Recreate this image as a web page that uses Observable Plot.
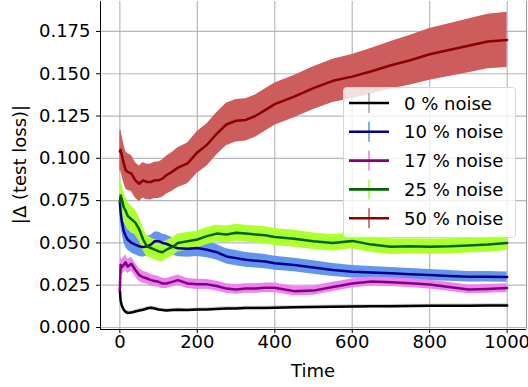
<!DOCTYPE html>
<html>
<head>
<meta charset="utf-8">
<script src="https://cdn.jsdelivr.net/npm/d3@7"></script>
<script src="https://cdn.jsdelivr.net/npm/@observablehq/plot@0.6"></script>
<style>
  html, body { margin: 0; padding: 0; background: white; }
</style>
</head>
<body>
<div id="chart"></div>
<script>
// ---- data ----
const time = [0,2,5,10,15,20,30,40,50,60,70,80,90,100,110,120,135,150,175,200,225,250,275,300,325,350,375,400,450,500,550,600,650,700,750,800,850,900,950,1000];

const noise0  = [0.022,0.016,0.013,0.0105,0.0092,0.0086,0.0088,0.0095,0.0100,0.0105,0.0112,0.0117,0.0112,0.0106,0.0103,0.0101,0.0103,0.0105,0.0103,0.0106,0.0107,0.0110,0.0112,0.0113,0.0115,0.0116,0.0116,0.0117,0.0119,0.0121,0.0123,0.0124,0.0125,0.0126,0.0127,0.0128,0.0129,0.0129,0.0130,0.0130];
const err0    = [0.0015,0.0015,0.0015,0.0013,0.0012,0.0011,0.001,0.001,0.001,0.001,0.001,0.001,0.001,0.001,0.001,0.001,0.001,0.001,0.001,0.001,0.001,0.001,0.001,0.001,0.001,0.001,0.001,0.001,0.001,0.001,0.001,0.001,0.001,0.001,0.001,0.001,0.001,0.001,0.001,0.001];

const noise10 = [0.074,0.068,0.063,0.057,0.054,0.052,0.050,0.049,0.048,0.0475,0.048,0.049,0.051,0.051,0.050,0.0495,0.048,0.0468,0.0465,0.047,0.046,0.0445,0.042,0.041,0.040,0.0395,0.039,0.038,0.037,0.0355,0.034,0.033,0.0325,0.032,0.0315,0.031,0.0305,0.030,0.030,0.0298];
const err10   = [0.0065,0.0065,0.0065,0.0065,0.0065,0.0062,0.006,0.006,0.006,0.006,0.0058,0.0056,0.0055,0.0054,0.0053,0.0052,0.005,0.005,0.005,0.005,0.0048,0.0046,0.0045,0.0045,0.0044,0.0043,0.0042,0.0041,0.004,0.004,0.0038,0.0037,0.0036,0.0035,0.0034,0.0033,0.0032,0.0031,0.0031,0.003];

const noise17 = [0.022,0.037,0.0356,0.037,0.0385,0.036,0.0376,0.034,0.031,0.0297,0.029,0.028,0.0275,0.027,0.026,0.026,0.027,0.028,0.026,0.0255,0.0255,0.0245,0.023,0.0225,0.023,0.023,0.0235,0.0235,0.0215,0.0218,0.024,0.026,0.0272,0.0268,0.0262,0.0254,0.024,0.0225,0.0228,0.0233];
const err17   = [0.003,0.0045,0.0045,0.0045,0.0045,0.0042,0.004,0.004,0.0038,0.0036,0.0035,0.0034,0.0033,0.0032,0.0031,0.003,0.003,0.003,0.003,0.003,0.0029,0.0029,0.0028,0.0028,0.0028,0.0028,0.0028,0.0028,0.0027,0.0027,0.0027,0.0027,0.0027,0.0026,0.0026,0.0026,0.0026,0.0026,0.0026,0.0026];

const noise25 = [0.074,0.078,0.076,0.071,0.069,0.066,0.064,0.062,0.058,0.052,0.048,0.047,0.046,0.045,0.0445,0.046,0.0475,0.050,0.051,0.052,0.054,0.0555,0.055,0.056,0.0555,0.055,0.0545,0.0535,0.0525,0.051,0.050,0.0512,0.049,0.0478,0.048,0.0478,0.048,0.0485,0.049,0.050];
const err25   = [0.008,0.009,0.009,0.0085,0.0082,0.008,0.0078,0.0075,0.007,0.0066,0.0063,0.006,0.006,0.0058,0.0056,0.0055,0.0054,0.0053,0.0052,0.0051,0.005,0.005,0.005,0.005,0.005,0.005,0.005,0.005,0.005,0.0049,0.0048,0.0047,0.0046,0.0046,0.0045,0.0045,0.0045,0.0045,0.0045,0.0045];

const noise50 = [0.104,0.105,0.102,0.097,0.093,0.092,0.091,0.087,0.085,0.087,0.086,0.086,0.087,0.087,0.088,0.090,0.092,0.0945,0.097,0.1035,0.108,0.1145,0.120,0.1222,0.1227,0.125,0.1285,0.132,0.1365,0.1415,0.1458,0.1483,0.1515,0.155,0.158,0.1615,0.164,0.1665,0.169,0.170];
const err50   = [0.012,0.012,0.0118,0.0115,0.011,0.0108,0.0106,0.0105,0.0105,0.0105,0.0105,0.0106,0.0107,0.0108,0.011,0.0112,0.0115,0.0118,0.012,0.0123,0.0125,0.0125,0.0125,0.0125,0.0125,0.0125,0.0125,0.0125,0.0125,0.0126,0.0128,0.013,0.0135,0.014,0.0147,0.0153,0.0156,0.0159,0.0161,0.0163];

const seriesLabels = ["0 % noise","10 % noise","17 % noise","25 % noise","50 % noise"];
const seriesValues = [noise0, noise10, noise17, noise25, noise50];
const seriesErrors = [err0, err10, err17, err25, err50];
const lineColors = ["#000000","#00008b","#800080","#006400","#8b0000"];
const bandColors = ["#a8a8a8","#6495ed","#ee82ee","#adff2f","#cd5c5c"];

const xTicks = [0,200,400,600,800,1000];
const yTicks = [0,0.025,0.05,0.075,0.1,0.125,0.15,0.175];
const xDomain = [-50, 1050];
const yDomain = [-0.00118, 0.1927];

// ---- table built from the arrays ----
const rows = [];
seriesLabels.forEach((s, k) => {
  time.forEach((t, i) => {
    rows.push({series: s, t, v: seriesValues[k][i], lo: seriesValues[k][i] - seriesErrors[k][i], hi: seriesValues[k][i] + seriesErrors[k][i]});
  });
});

const W = 528, H = 387;
const bands = seriesLabels.map((s, k) =>
  Plot.areaY(rows, {filter: d => d.series === s, x: "t", y1: "lo", y2: "hi", fill: bandColors[k], fillOpacity: k === 0 ? 0.6 : 1}));
const lines = seriesLabels.map((s, k) =>
  Plot.lineY(rows, {filter: d => d.series === s, x: "t", y: "v", stroke: lineColors[k], strokeWidth: 2.5, strokeLinejoin: "round"}));

const chart = Plot.plot({
  width: W, height: H,
  marginLeft: 100, marginRight: 2, marginTop: 1, marginBottom: 58,
  style: {fontFamily: "DejaVu Sans", fontSize: "18px", color: "black", background: "white", overflow: "hidden"},
  x: {domain: xDomain, ticks: xTicks, tickFormat: d3.format("d"), tickSize: 4, tickPadding: 2, label: null},
  y: {domain: yDomain, ticks: yTicks, tickFormat: d3.format(".3f"), tickSize: 4, tickPadding: 6, label: null},
  marks: [
    Plot.gridX(xTicks, {stroke: "#b0b0b0", strokeOpacity: 0.9, strokeWidth: 1.2}),
    Plot.gridY(yTicks, {stroke: "#b0b0b0", strokeOpacity: 0.9, strokeWidth: 1.2}),
    ...bands,
    ...lines,
    Plot.ruleX([xDomain[0]], {stroke: "black", strokeWidth: 1}),
    Plot.ruleX([xDomain[1]], {stroke: "#999", strokeWidth: 1}),
    Plot.ruleY([yDomain[0]], {stroke: "black", strokeWidth: 1})
  ]
});

document.getElementById("chart").appendChild(chart);

// ---- axis labels and legend ----
const svg = d3.select(chart);
svg.append("text").attr("x", 313).attr("y", 377).attr("text-anchor", "middle")
  .attr("fill", "black").style("font-size", "18px").text("Time");
svg.append("text").attr("transform", "translate(26,164.5) rotate(-90)").attr("text-anchor", "middle")
  .attr("fill", "black").style("font-size", "18px").text("|Δ (test loss)|");

const lg = svg.append("g");
lg.append("rect").attr("x", 343.5).attr("y", 87.5).attr("width", 172).attr("height", 150).attr("rx", 3)
  .attr("fill", "white").attr("fill-opacity", 0.8).attr("stroke", "#d6d6d6");
seriesLabels.forEach((s, k) => {
  const cy = 103 + k * 28.8;
  lg.append("line").attr("x1", 369).attr("x2", 369).attr("y1", cy - 10).attr("y2", cy + 10)
    .attr("stroke", bandColors[k]).attr("stroke-width", 1.6);
  lg.append("line").attr("x1", 349).attr("x2", 389).attr("y1", cy).attr("y2", cy)
    .attr("stroke", lineColors[k]).attr("stroke-width", 2.6);
  lg.append("text").attr("x", 404).attr("y", cy + 6.5).attr("text-anchor", "start")
    .attr("fill", "black").style("font-size", "18px").text(s);
});
</script>
</body>
</html>
